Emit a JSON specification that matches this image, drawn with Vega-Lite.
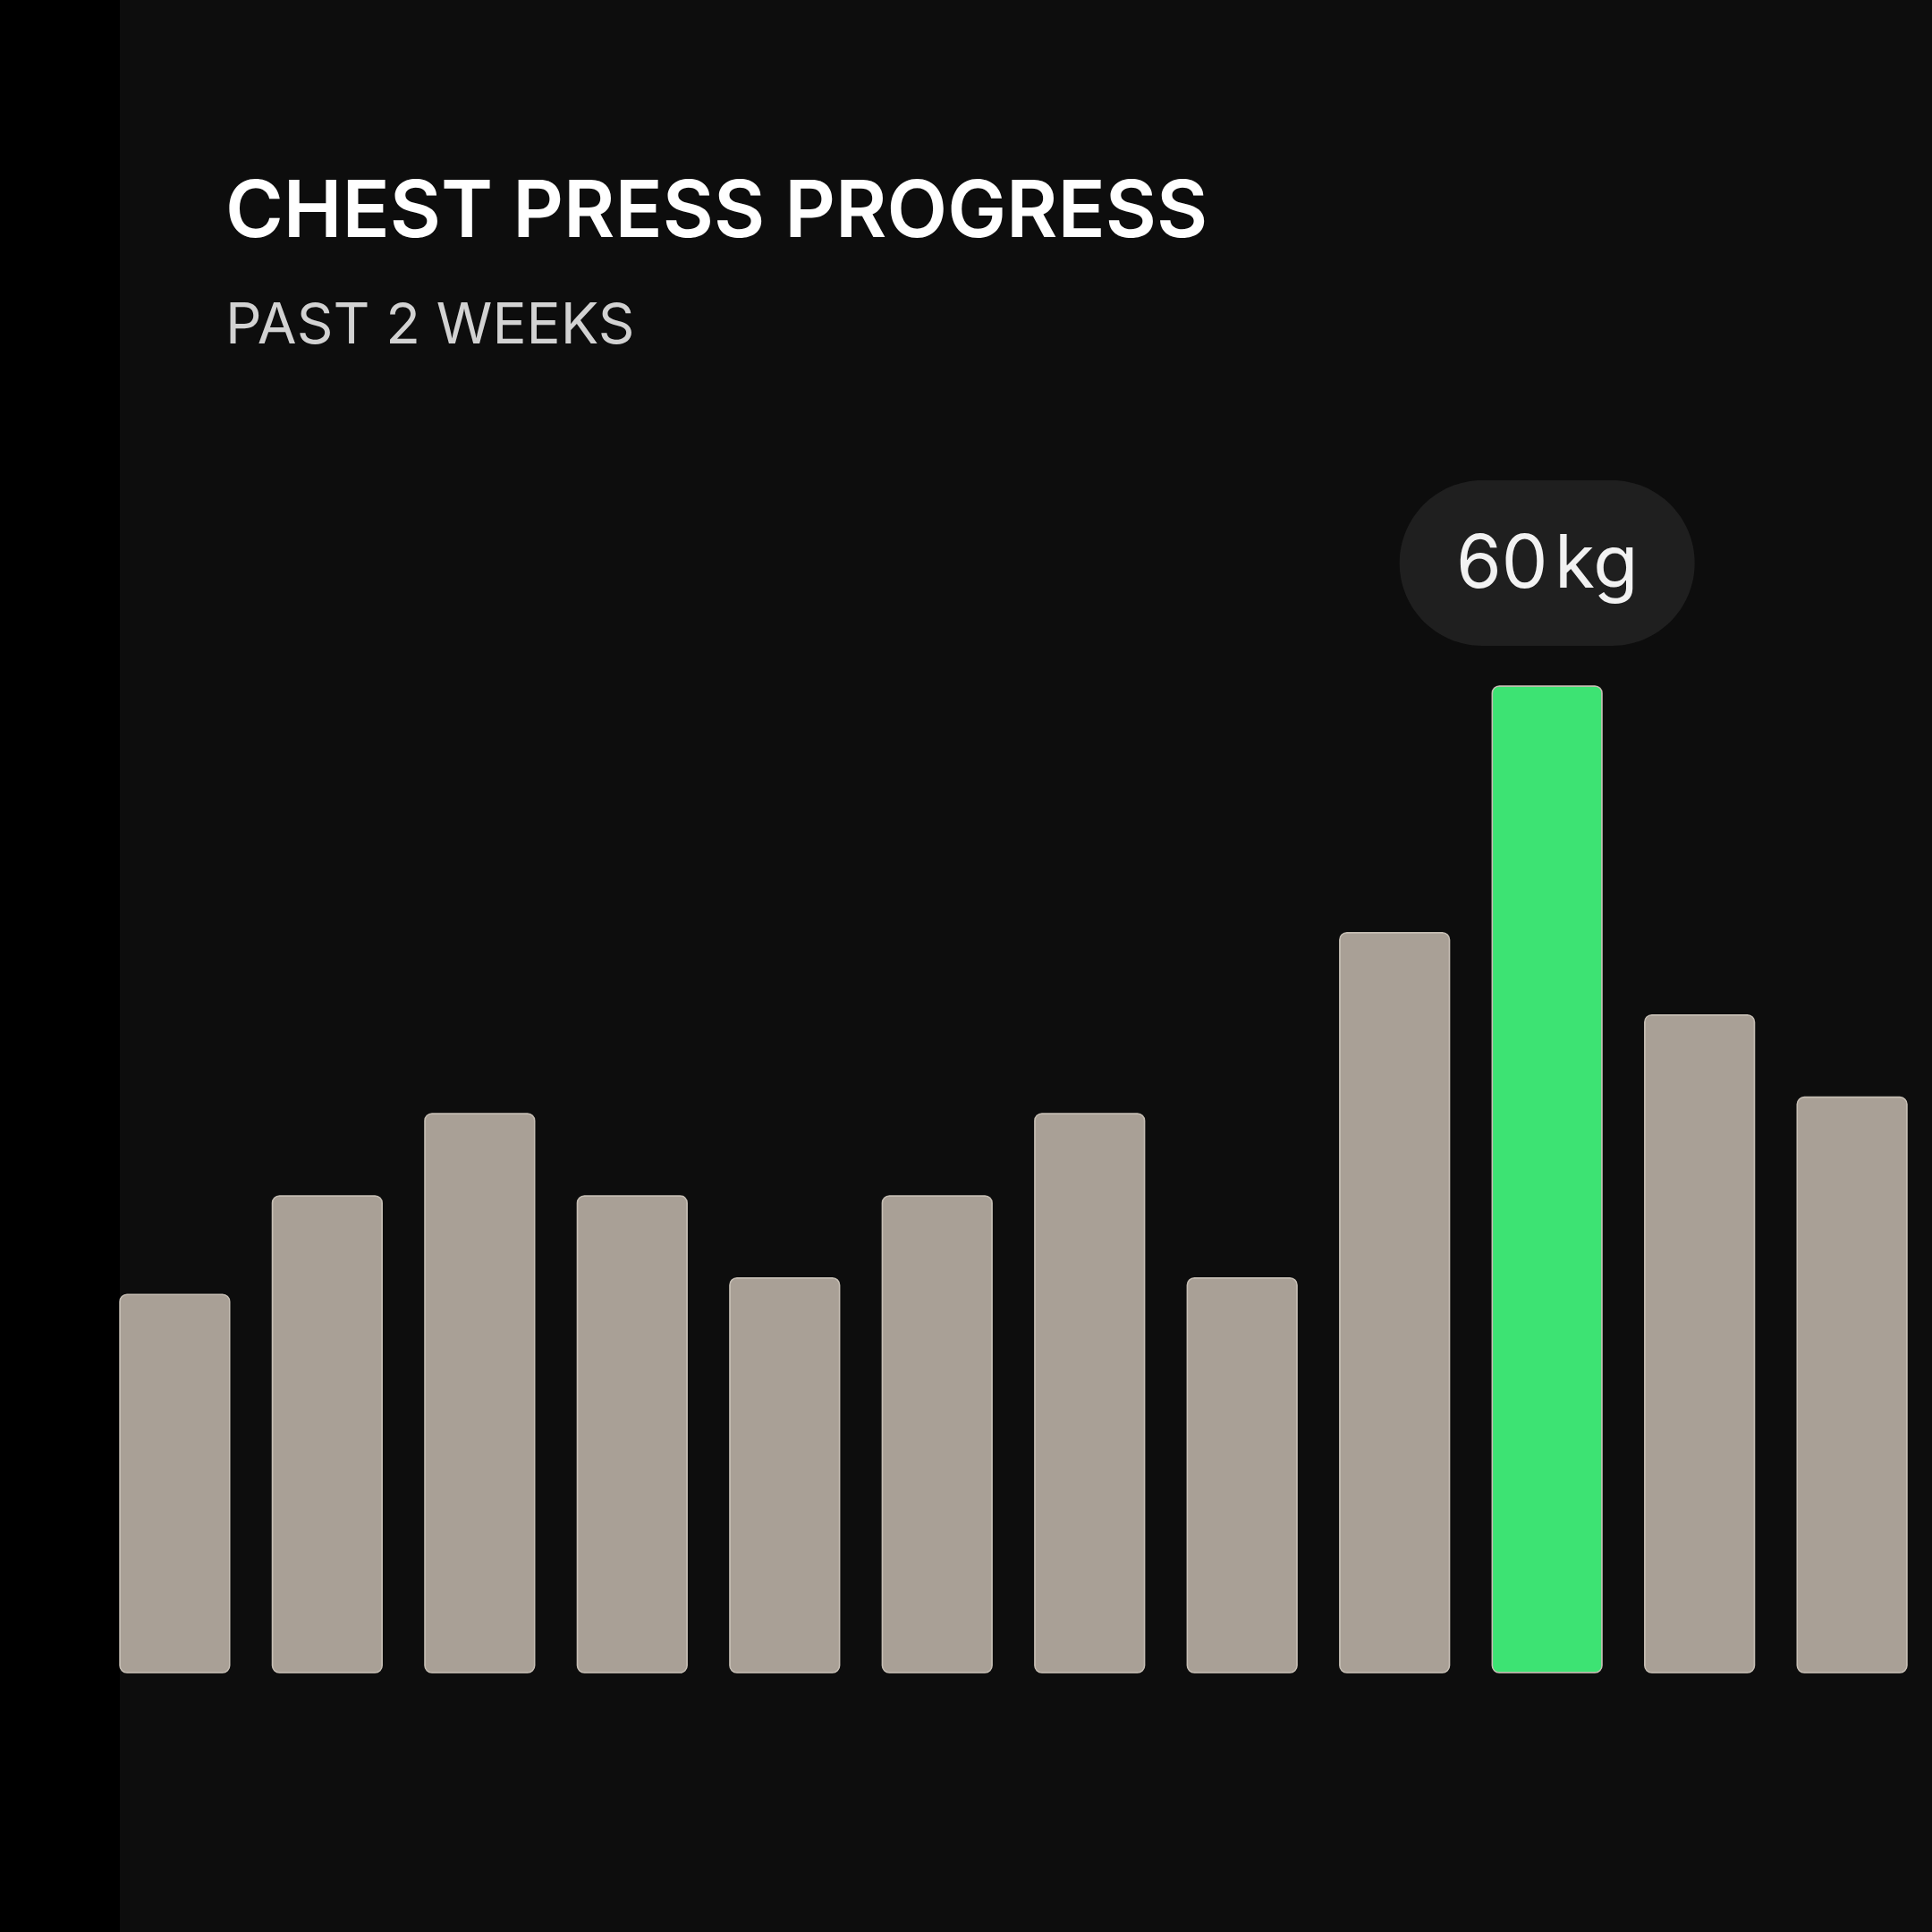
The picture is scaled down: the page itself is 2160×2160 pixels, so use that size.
{
  "$schema": "https://vega.github.io/schema/vega-lite/v6.json",
  "width": 2026,
  "height": 2160,
  "autosize": "none",
  "padding": {"left": 134, "top": 0, "right": 0, "bottom": 0},
  "background": "#000000",
  "config": {
    "view": {"fill": "#0d0d0d", "stroke": null},
    "font": "Inter"
  },
  "title": {
    "text": "CHEST PRESS PROGRESS",
    "subtitle": "PAST 2 WEEKS",
    "anchor": "start",
    "frame": "group",
    "orient": "top",
    "offset": -396,
    "dx": 118,
    "font": "Inter",
    "fontSize": 88,
    "fontWeight": 600,
    "color": "#ffffff",
    "subtitleFont": "Inter",
    "subtitleFontSize": 63.5,
    "subtitleFontWeight": 400,
    "subtitleColor": "#d2d2d2",
    "subtitlePadding": 51
  },
  "data": {
    "values": [
      {"session": 1, "kg": 23},
      {"session": 2, "kg": 29},
      {"session": 3, "kg": 34},
      {"session": 4, "kg": 29},
      {"session": 5, "kg": 24},
      {"session": 6, "kg": 29},
      {"session": 7, "kg": 34},
      {"session": 8, "kg": 24},
      {"session": 9, "kg": 45},
      {"session": 10, "kg": 60},
      {"session": 11, "kg": 40},
      {"session": 12, "kg": 35}
    ]
  },
  "transform": [
    {"joinaggregate": [{"op": "max", "field": "kg", "as": "best"}]}
  ],
  "encoding": {
    "x": {
      "field": "session",
      "type": "ordinal",
      "axis": null,
      "scale": {"range": [0, 1998], "paddingInner": 0.28, "paddingOuter": 0}
    },
    "y": {
      "field": "kg",
      "type": "quantitative",
      "axis": null,
      "scale": {"domain": [0, 60], "range": [1870, 767], "nice": false, "zero": true}
    }
  },
  "layer": [
    {
      "mark": {"type": "bar", "cornerRadius": 8, "stroke": "#c6beb4", "strokeWidth": 1.5},
      "encoding": {
        "fill": {
          "condition": {"test": "datum.kg < datum.best", "value": "#a9a096"},
          "value": "#3de373"
        }
      }
    },
    {
      "transform": [{"filter": "datum.kg === datum.best"}],
      "mark": {
        "type": "point",
        "filled": true,
        "shape": "M-0.4394,-0.5606L0.4394,-0.5606A0.5606,0.5606,0,0,1,0.4394,0.5606L-0.4394,0.5606A0.5606,0.5606,0,0,1,-0.4394,-0.5606Z",
        "size": 108900,
        "color": "#1f1f1f",
        "opacity": 1,
        "strokeWidth": 0,
        "yOffset": -137.5
      }
    },
    {
      "transform": [
        {"filter": "datum.kg === datum.best"},
        {"calculate": "datum.kg + '\u200akg'", "as": "label"}
      ],
      "mark": {
        "type": "text",
        "font": "Inter",
        "fontSize": 82,
        "fontWeight": 400,
        "color": "#f2f2f2",
        "baseline": "alphabetic",
        "align": "center",
        "dy": -110
      },
      "encoding": {"text": {"field": "label"}}
    }
  ]
}
